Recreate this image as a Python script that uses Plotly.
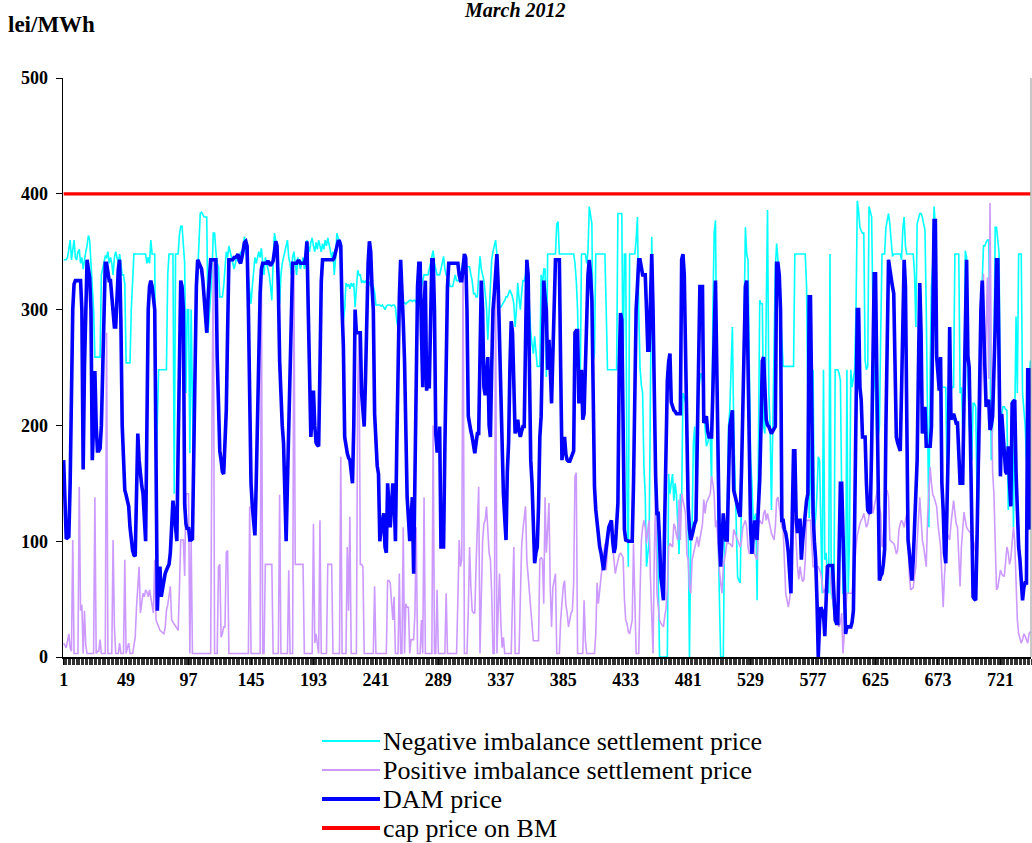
import plotly.graph_objects as go

# ---------------- data (hourly values, March 2012, 31 days x 24 h) ----------------
x_tick_values = [1, 49, 97, 145, 193, 241, 289, 337, 385, 433, 481, 529, 577, 625, 673, 721]
x_tick_labels = ["1", "49", "97", "145", "193", "241", "289", "337", "385", "433",
                 "481", "529", "577", "625", "673", "721"]
y_tick_values = [0, 100, 200, 300, 400, 500]

series_names = ["Negative imbalance settlement price", "Positive imbalance settlement price",
                "DAM price", "cap price on BM"]

dam_days = [
    [170,120,102,103,104,150,230,300,322,325,325,325,325,325,300,162,250,320,343,335,328,300,170,200],
    [247,200,178,178,180,200,260,320,340,340,330,325,325,310,290,285,285,320,335,343,290,200,178,144],
    [140,135,130,112,100,92,88,87,140,193,170,155,148,141,120,100,200,300,320,325,320,310,300,170],
    [40,70,78,52,60,65,72,75,78,80,90,110,135,125,110,100,180,290,325,320,300,132,115,110],
    [112,101,101,102,180,256,320,343,340,338,335,325,310,290,280,310,330,343,343,343,343,343,260,205],
    [178,170,160,158,190,213,280,343,343,343,343,345,345,346,348,342,340,345,352,358,359,355,300,200],
    [150,130,115,105,150,220,280,314,335,340,340,340,340,342,340,338,340,342,350,359,355,320,256,220],
    [200,185,140,100,150,200,228,300,340,340,340,340,342,342,340,340,340,340,345,359,300,230,190,210],
    [230,200,185,183,182,250,324,343,343,343,343,343,343,343,343,343,345,350,355,359,359,355,300,268],
    [190,182,176,172,170,160,150,200,300,280,280,280,280,228,210,199,240,305,340,359,350,320,300,210],
    [180,165,158,100,110,120,124,95,90,150,130,112,130,150,140,100,180,256,310,343,320,290,256,170],
    [138,120,100,120,138,72,150,250,320,340,340,280,233,300,325,230,240,232,280,343,343,300,193,178],
    [178,199,95,95,95,180,260,320,340,340,340,340,340,340,340,340,330,325,325,340,348,345,300,208],
    [200,195,190,180,176,185,193,193,250,325,300,233,226,240,259,200,190,250,300,314,335,348,320,270],
    [220,180,141,120,101,160,185,250,290,280,230,193,200,205,195,190,195,199,199,280,343,330,250,170],
    [150,110,81,90,95,130,190,208,280,325,310,300,248,274,250,219,260,320,343,343,343,343,250,170],
    [185,190,175,170,169,169,172,175,178,280,282,282,219,230,248,205,210,250,300,330,343,330,308,205],
    [147,127,115,100,95,90,82,75,85,95,105,112,115,118,100,90,95,115,133,250,297,291,200,110],
    [101,100,100,100,100,100,150,220,300,320,343,343,335,330,330,330,300,265,265,310,348,300,200,156],
    [124,124,100,69,60,49,120,190,239,255,262,220,216,213,212,210,210,210,210,343,348,330,250,170],
    [130,110,101,105,112,115,118,180,228,320,320,320,202,205,208,195,190,190,190,230,280,325,250,160],
    [100,78,100,124,110,101,101,150,199,206,213,144,138,132,130,125,121,160,220,280,320,325,250,160],
    [110,89,105,118,110,101,130,153,200,256,259,230,205,200,199,196,193,195,197,199,340,340,330,300],
    [118,118,110,107,100,90,72,55,120,178,178,120,107,118,118,84,100,115,124,135,141,311,311,220],
    [124,100,84,49,0,30,43,40,38,18,50,78,79,79,79,79,55,32,29,29,90,150,150,100],
    [69,20,26,26,26,26,30,40,120,230,300,300,233,222,190,190,190,150,127,125,124,180,280,331],
    [331,250,141,66,70,72,80,93,200,300,343,335,325,320,314,250,190,185,180,178,230,300,343,320],
    [200,101,90,80,66,84,110,140,170,250,323,280,193,205,216,182,182,182,182,199,300,377,377,259],
    [245,230,259,150,127,90,81,130,185,285,205,208,210,206,202,202,175,150,150,150,220,300,343,260],
    [250,182,120,52,50,49,100,180,260,300,325,290,250,216,220,222,196,200,208,240,285,343,343,250],
    [156,210,190,176,160,158,182,150,130,219,220,222,160,112,95,84,60,49,60,64,64,248,248,110],
]

negative_days = [
    [343,343,343,345,355,360,343,350,360,345,343,350,352,340,345,335,345,350,355,364,360,340,314,300],
    [259,259,259,259,259,330,335,340,346,345,350,340,345,340,330,345,350,345,340,348,340,330,330,322],
    [254,254,254,254,300,331,348,348,348,348,348,348,348,348,348,348,340,345,340,360,348,348,348,158],
    [200,248,248,248,248,248,248,248,330,348,348,348,348,141,348,348,348,365,372,372,355,340,228,300],
    [300,176,300,200,138,280,310,340,360,383,384,382,380,380,380,280,300,320,330,366,366,350,340,337],
    [311,311,311,320,340,350,345,355,350,345,340,335,340,345,343,340,350,345,355,363,350,340,330,320],
    [305,320,335,345,340,345,350,345,353,340,330,345,340,335,330,320,308,340,366,360,345,335,305,330],
    [340,345,350,355,360,345,340,330,345,350,340,330,345,340,335,340,345,335,340,360,355,350,358,362],
    [355,350,358,352,360,355,350,357,352,360,355,362,355,350,345,350,330,345,366,362,360,358,320,290],
    [300,323,320,322,318,323,320,323,302,315,334,330,330,323,325,323,325,323,322,323,320,323,320,315],
    [304,304,304,304,303,304,302,300,303,304,304,304,303,304,304,302,290,285,304,305,305,306,306,305],
    [306,307,308,308,307,308,308,306,305,308,315,320,325,330,330,330,330,335,340,346,351,340,335,330],
    [330,330,335,340,346,335,330,330,325,320,320,320,325,330,325,325,325,330,335,343,340,337,337,337],
    [337,330,325,314,314,311,311,330,346,335,330,325,314,302,274,300,320,343,350,355,360,348,330,302],
    [302,304,305,308,311,311,314,317,314,311,305,285,300,323,310,300,314,325,325,330,343,320,297,280],
    [270,262,277,265,251,251,251,330,320,335,335,242,348,348,348,348,348,348,348,374,376,348,348,348],
    [348,348,348,348,348,348,348,348,348,340,325,300,250,230,348,348,348,348,340,350,389,380,374,256],
    [262,348,348,348,348,348,348,348,348,300,248,248,248,248,248,248,248,248,383,383,383,383,248,348],
    [348,140,78,348,348,348,348,348,360,380,300,250,235,228,164,140,78,90,100,230,363,285,200,141],
    [112,70,0,0,0,0,0,0,0,158,141,150,158,135,150,140,120,89,141,135,228,225,220,228],
    [112,0,100,110,185,199,141,200,228,240,245,240,210,199,182,185,190,190,150,300,366,377,200,112],
    [50,0,0,0,112,112,112,199,213,250,285,199,150,100,69,66,64,141,228,300,371,348,343,250],
    [170,150,118,120,124,49,170,308,305,305,199,193,300,386,228,199,127,193,250,337,357,343,320,300],
    [270,251,251,251,251,251,251,251,251,251,348,348,348,348,348,348,348,348,348,320,200,120,160,200],
    [248,112,120,141,173,170,100,55,248,84,90,70,55,348,55,50,40,248,248,248,245,239,141,55],
    [55,32,248,55,100,248,233,240,248,300,394,385,371,368,366,366,256,248,251,389,385,380,300,240],
    [228,185,190,199,280,348,348,348,371,378,383,374,360,346,348,348,348,348,348,348,343,370,380,355],
    [348,348,348,348,348,348,330,285,374,380,383,383,380,374,369,300,200,112,250,320,340,389,372,262],
    [250,240,233,233,233,233,233,150,190,228,230,233,233,348,348,348,348,228,233,200,185,351,345,242],
    [200,185,170,219,219,216,141,127,200,270,325,355,355,358,360,360,285,170,200,256,371,371,360,348],
    [182,210,216,216,214,213,127,141,180,222,112,200,294,228,348,348,348,228,213,200,170,200,228,256],
]

positive_days = [
    [12,10,8,14,20,8,5,101,3,3,3,3,147,40,45,3,40,10,3,3,3,3,3,3],
    [138,3,5,5,15,3,3,3,3,280,3,3,3,3,101,26,3,3,3,12,3,3,3,84],
    [3,8,12,3,3,3,10,17,43,60,78,38,46,55,52,58,56,52,58,50,45,38,84,32],
    [29,26,23,22,21,20,25,40,45,55,61,32,30,29,27,25,23,60,101,101,101,70,141,141],
    [141,3,101,3,3,3,3,3,3,3,3,3,3,3,3,3,3,3,200,343,3,3,3,78],
    [80,17,20,26,26,90,92,3,3,3,3,3,3,3,3,3,3,3,3,3,3,3,3,130],
    [3,3,3,3,3,3,3,3,330,3,3,80,80,80,80,80,80,3,3,3,3,3,140,3],
    [3,3,3,3,3,75,3,3,3,334,80,80,80,80,80,80,80,3,3,3,3,3,3,3],
    [115,12,20,12,3,118,3,3,3,3,3,80,80,80,80,3,3,3,3,3,3,173,3,3],
    [3,3,95,40,121,3,3,3,3,3,228,280,80,80,78,3,3,3,3,3,3,3,3,61],
    [3,3,3,3,3,3,3,3,3,66,66,64,43,32,52,3,3,3,72,3,3,112,3,46],
    [43,43,3,15,15,15,38,112,3,3,3,32,3,138,3,3,3,3,3,3,200,3,3,58],
    [3,3,3,3,3,3,55,3,3,3,3,3,3,3,3,50,101,78,84,343,3,3,3,40],
    [95,60,40,38,38,80,120,147,3,60,100,115,118,130,110,90,84,55,3,3,330,3,40,72],
    [30,8,17,3,3,3,3,3,3,50,95,3,3,3,3,50,95,110,120,130,84,70,55,40],
    [20,14,14,14,14,14,84,86,84,46,138,90,110,133,60,26,60,68,72,3,3,3,32,50],
    [61,66,45,38,26,32,38,40,64,156,159,3,3,3,3,3,49,14,3,3,3,3,3,3],
    [3,20,64,46,60,69,78,90,98,75,100,112,114,115,95,86,72,78,84,88,90,88,86,50],
    [32,29,22,20,25,32,98,60,3,3,3,55,100,112,118,112,98,110,118,69,40,3,90,141],
    [55,40,32,29,27,26,35,42,60,95,98,96,95,115,112,105,101,136,101,141,136,130,124,89],
    [84,60,55,84,89,95,98,104,95,101,108,115,136,124,133,136,138,141,156,150,140,112,118,89],
    [75,64,55,78,84,92,101,98,98,96,95,110,107,104,101,98,95,101,112,115,118,112,95,89],
    [92,112,98,89,86,84,112,118,116,115,124,127,118,124,118,112,107,104,101,112,136,138,130,124],
    [112,110,80,55,49,43,50,60,90,118,120,95,78,67,78,70,65,67,84,118,118,118,118,98],
    [78,78,78,78,78,75,72,64,55,58,60,70,78,72,60,50,43,38,32,28,26,30,38,3],
    [20,38,55,55,55,55,55,65,84,95,105,112,115,118,120,124,118,112,115,122,130,136,124,130],
    [138,141,147,130,124,95,101,125,141,144,138,101,100,99,98,95,89,92,110,115,118,116,112,118],
    [124,100,70,58,59,60,70,78,100,120,138,120,101,95,88,78,120,150,164,150,140,138,134,130],
    [115,105,95,70,43,70,90,107,104,101,115,125,135,125,115,112,90,61,95,115,125,118,112,110],
    [108,107,98,89,95,100,107,140,180,199,250,331,240,280,328,240,392,250,160,141,90,58,60,70],
    [75,72,70,70,85,95,90,80,85,100,112,100,60,32,20,15,12,15,20,18,15,12,20,22],
]

cap_price_value = 400

for name, days in (("dam", dam_days), ("negative", negative_days), ("positive", positive_days)):
    for d, row in enumerate(days):
        assert len(row) == 24, f"{name} day {d} has {len(row)} values"

dam_price = [v for day in dam_days for v in day]
negative_price = [v for day in negative_days for v in day]
positive_price = [v for day in positive_days for v in day]
hours = list(range(1, len(dam_price) + 1))
cap_price = [cap_price_value] * len(hours)

# ---------------- figure ----------------
SERIF = "Liberation Serif"
W, H = 1032, 843
PL, PR, PT, PB = 63, 1031, 78, 657          # plot-area box in pixels


def px(x):  # pixel -> paper x
    return (x - PL) / (PR - PL)


def py(y):  # pixel -> paper y
    return (PB - y) / (PB - PT)


colors = ["#00FFFF", "#CC99FF", "#0000FF", "#FF0000"]
widths = [1.6, 1.6, 3.6, 3.2]
series = [negative_price, positive_price, dam_price, cap_price]

fig = go.Figure()
for name, ys, c, w in zip(series_names, series, colors, widths):
    fig.add_trace(go.Scatter(x=hours, y=ys, mode="lines", name=name,
                             line=dict(color=c, width=w), showlegend=False))

tick_font = dict(family=SERIF, size=18, color="black", weight="bold")

annotations = [
    dict(text="<b><i>March 2012</i></b>", xref="paper", yref="paper",
         x=px(515), y=py(-3), xanchor="center", yanchor="top",
         showarrow=False, font=dict(family=SERIF, size=20, color="black")),
    dict(text="<b>lei/MWh</b>", xref="paper", yref="paper",
         x=px(6), y=py(25), xanchor="left", yanchor="middle",
         showarrow=False, font=dict(family=SERIF, size=23, color="black")),
]
shapes = [dict(type="line", xref="paper", yref="paper", x0=1, x1=1, y0=0, y1=1.0,
               line=dict(color="#909090", width=1))]

# legend drawn below the plot
legend_rows = [741, 770, 799, 828]
legend_widths = [2, 2, 4, 4]
for name, c, w, ry in zip(series_names, colors, legend_widths, legend_rows):
    shapes.append(dict(type="line", xref="paper", yref="paper",
                       x0=px(322), x1=px(380), y0=py(ry), y1=py(ry),
                       line=dict(color=c, width=w)))
    annotations.append(dict(text=name, xref="paper", yref="paper",
                            x=px(381), y=py(ry), xanchor="left", yanchor="middle",
                            showarrow=False,
                            font=dict(family=SERIF, size=26, color="black")))

fig.update_layout(
    width=W, height=H, autosize=False,
    margin=dict(l=PL, r=W - PR, t=PT, b=H - PB, pad=0),
    paper_bgcolor="white", plot_bgcolor="white",
    showlegend=False,
    hovermode=False,
    xaxis=dict(range=[0.5, len(hours) + 0.5], tickmode="array",
               tickvals=x_tick_values, ticktext=x_tick_labels,
               ticks="outside", ticklen=6, tickcolor="black", tickwidth=1,
               ticklabelstandoff=0,
               showline=True, linecolor="black", linewidth=1.5,
               showgrid=False, zeroline=False, tickfont=tick_font,
               minor=dict(ticks="outside", ticklen=6, tickmode="linear",
                          tick0=0.5, dtick=1, tickcolor="#333333", tickwidth=1,
                          showgrid=False)),
    yaxis=dict(range=[0, 500], tickmode="array", tickvals=y_tick_values,
               ticks="outside", ticklen=6, tickcolor="black", tickwidth=1,
               ticklabelstandoff=4,
               showline=True, linecolor="black", linewidth=1.5,
               showgrid=False, zeroline=False, tickfont=tick_font),
    annotations=annotations,
    shapes=shapes,
)

fig.write_html("out.html",
               config={"displayModeBar": False, "staticPlot": True},
               post_script="document.body.style.margin='0';"
                           "document.body.style.overflow='hidden';")
